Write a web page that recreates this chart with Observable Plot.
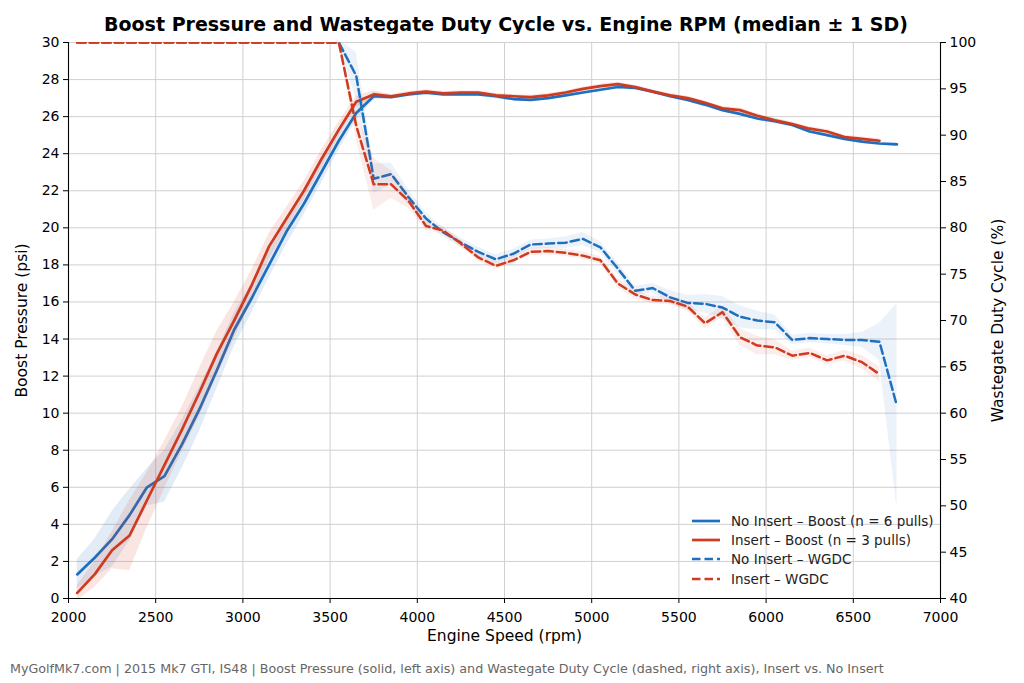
<!DOCTYPE html>
<html><head><meta charset="utf-8">
<script src="https://cdn.jsdelivr.net/npm/d3@7"></script>
<script src="https://cdn.jsdelivr.net/npm/@observablehq/plot@0.6"></script>
<style>
body{margin:0;background:#fff;font-family:"DejaVu Sans",sans-serif;}
#wrap{position:relative;width:1024px;height:683px;overflow:hidden;background:#fff;}
#title{position:absolute;top:13px;left:0;width:1012px;text-align:center;font-weight:bold;font-size:19px;line-height:23px;color:#000;white-space:nowrap;}
#chart{position:absolute;top:34px;left:0;}
#caption{position:absolute;left:10px;top:661px;font-size:12.7px;line-height:15px;color:#666;white-space:nowrap;}
#legend{position:absolute;left:691px;top:511px;font-size:13.5px;color:#222;}
#legend .row{display:flex;align-items:center;height:19.4px;white-space:nowrap;}
#legend svg{margin-right:10px;}
</style></head>
<body>
<div id="wrap">
  <div id="title">Boost Pressure and Wastegate Duty Cycle vs. Engine RPM (median ± 1 SD)</div>
  <div id="chart"></div>
  <div id="legend"></div>
  <div id="caption">MyGolfMk7.com | 2015 Mk7 GTI, IS48 | Boost Pressure (solid, left axis) and Wastegate Duty Cycle (dashed, right axis), Insert vs. No Insert</div>
</div>
<script>
// ---- data ----
const rpm = [2050,2150,2250,2350,2450,2550,2650,2750,2850,2950,3050,3150,3250,3350,3450,3550,3650,3750,3850,3950,4050,4150,4250,4350,4450,4550,4650,4750,4850,4950,5050,5150,5250,5350,5450,5550,5650,5750,5850,5950,6050,6150,6250,6350,6450,6550,6650,6750];

const boostNoInsert = [1.3,2.2,3.2,4.5,6.0,6.6,8.3,10.2,12.3,14.5,16.2,18.0,19.8,21.3,23.0,24.7,26.2,27.1,27.05,27.2,27.3,27.2,27.2,27.2,27.1,26.95,26.9,27.0,27.15,27.3,27.45,27.6,27.55,27.35,27.1,26.9,26.65,26.35,26.15,25.9,25.75,25.55,25.2,25.0,24.8,24.65,24.55,24.5];
const boostNoInsertSd = [0.8,1.0,1.5,1.4,1.0,1.4,1.3,1.2,1.0,0.9,0.8,0.7,0.7,0.6,0.6,0.5,0.4,0.2,0.1,0.1,0.1,0.1,0.1,0.1,0.15,0.1,0.1,0.1,0.1,0.1,0.1,0.1,0.1,0.1,0.1,0.1,0.15,0.1,0.1,0.1,0.15,0.1,0.1,0.1,0.1,0.1,0.1,0.1];
const boostInsert = [0.3,1.3,2.6,3.4,5.3,7.2,9.1,11.1,13.2,15.0,16.9,19.0,20.5,22.0,23.7,25.3,26.8,27.2,27.1,27.25,27.35,27.25,27.3,27.3,27.15,27.1,27.05,27.15,27.3,27.5,27.65,27.75,27.6,27.35,27.15,27.0,26.75,26.45,26.35,26.05,25.8,25.6,25.35,25.2,24.9,24.8,24.7];
const boostInsertSd = [0.4,0.7,1.0,1.9,1.5,1.3,1.2,1.3,1.2,1.0,0.8,0.7,0.6,0.5,0.5,0.4,0.3,0.2,0.1,0.1,0.1,0.1,0.1,0.1,0.1,0.1,0.1,0.1,0.1,0.1,0.1,0.1,0.1,0.1,0.1,0.1,0.1,0.1,0.1,0.1,0.1,0.1,0.1,0.1,0.1,0.1,0.1];

const wgdcNoInsert = [100,100,100,100,100,100,100,100,100,100,100,100,100,100,100,100,96.4,85.3,85.8,83.3,81.0,79.5,78.4,77.4,76.6,77.2,78.2,78.3,78.4,78.8,77.9,75.6,73.2,73.5,72.5,71.9,71.8,71.4,70.4,70.0,69.8,67.9,68.1,68.0,67.9,67.9,67.7,60.8];
const wgdcNoInsertSd = [0,0,0,0,0,0,0,0,0,0,0,0,0,0,0,0.3,2.5,1.6,1.2,0.8,0.6,0.5,0.5,0.5,0.5,0.5,0.5,0.5,0.6,0.7,0.6,0.6,0.5,0.5,0.7,0.8,1.0,1.2,1.2,1.0,0.8,0.5,0.5,0.5,0.6,0.8,2.0,11.0];
const wgdcInsert = [100,100,100,100,100,100,100,100,100,100,100,100,100,100,100,100,91.0,84.7,84.7,82.9,80.2,79.7,78.3,76.8,75.9,76.5,77.4,77.5,77.3,77.0,76.5,74.0,72.8,72.2,72.1,71.5,69.7,70.9,68.2,67.3,67.1,66.2,66.5,65.7,66.2,65.5,64.2];
const wgdcInsertSd = [0,0,0,0,0,0,0,0,0,0,0,0,0,0,0,0.2,1.5,2.8,1.5,0.8,0.5,0.4,0.4,0.4,0.4,0.4,0.4,0.4,0.4,0.4,0.4,0.5,0.5,0.4,0.4,0.5,0.6,0.6,0.9,1.0,0.8,0.5,0.5,0.5,0.6,0.7,0.8];

const xTicks = [2000,2500,3000,3500,4000,4500,5000,5500,6000,6500,7000];
const boostTicks = [0,2,4,6,8,10,12,14,16,18,20,22,24,26,28,30];
const wgdcTicks = [40,45,50,55,60,65,70,75,80,85,90,95,100];

const seriesNames = ["No Insert", "Insert"];
const seriesColors = ["#1f6fbf", "#d03a1f"];
const legendLabels = ["No Insert – Boost (n = 6 pulls)", "Insert – Boost (n = 3 pulls)", "No Insert – WGDC", "Insert – WGDC"];

// ---- build ----
const toL = w => (w - 40) / 2;       // WGDC % -> left (psi) scale
const fromL = v => v * 2 + 40;
const DASH = "8.5,4";

const seriesData = [
  {name: seriesNames[0], color: seriesColors[0], boost: boostNoInsert, bsd: boostNoInsertSd, wgdc: wgdcNoInsert, wsd: wgdcNoInsertSd},
  {name: seriesNames[1], color: seriesColors[1], boost: boostInsert, bsd: boostInsertSd, wgdc: wgdcInsert, wsd: wgdcInsertSd}
].map(s => ({...s, rows: s.boost.map((v, i) => ({rpm: rpm[i], boost: v, bsd: s.bsd[i], wgdc: s.wgdc[i], wsd: s.wsd[i]}))}));

const grid = {stroke: "#d0d0d0", strokeOpacity: 1, strokeWidth: 1};
const marks = [
  Plot.gridX(xTicks, grid),
  Plot.gridY(boostTicks, grid)
];
for (const s of seriesData) {
  marks.push(Plot.areaY(s.rows, {x: "rpm", y1: d => d.boost - d.bsd, y2: d => d.boost + d.bsd, fill: s.color, fillOpacity: 0.13, clip: true}));
  marks.push(Plot.lineY(s.rows, {x: "rpm", y: "boost", stroke: s.color, strokeWidth: 2.7, clip: true}));
}
for (const s of seriesData) {
  marks.push(Plot.areaY(s.rows, {x: "rpm", y1: d => toL(d.wgdc - d.wsd), y2: d => toL(d.wgdc + d.wsd), fill: s.color, fillOpacity: 0.09, clip: true}));
  marks.push(Plot.lineY(s.rows, {x: "rpm", y: d => toL(d.wgdc), stroke: s.color, strokeWidth: 2.5, strokeDasharray: DASH, clip: true}));
}
marks.push(
  Plot.ruleX([2000, 7000], {stroke: "#000", strokeWidth: 1.1}),
  Plot.ruleY([0], {stroke: "#000", strokeWidth: 1.1}),
  Plot.axisX(xTicks, {tickSize: 5, tickPadding: 9, fontSize: 14, label: null, tickFormat: d => String(d)}),
  Plot.axisY(boostTicks, {anchor: "left", tickSize: 5, tickPadding: 4, fontSize: 14, label: null}),
  Plot.axisY(wgdcTicks.map(toL), {anchor: "right", tickSize: 5, tickPadding: 4, fontSize: 14, label: null, tickFormat: v => String(Math.round(fromL(v)))}),
  Plot.text(["Boost Pressure (psi)"], {frameAnchor: "left", dx: -46, rotate: -90, textAnchor: "middle", fontSize: 15.5, fill: "#000"}),
  Plot.text(["Wastegate Duty Cycle (%)"], {frameAnchor: "right", dx: 58, rotate: -90, textAnchor: "middle", fontSize: 15.5, fill: "#000"}),
  Plot.text(["Engine Speed (rpm)"], {frameAnchor: "bottom", dy: 42, fontSize: 15.5, fill: "#000"})
);

const chart = Plot.plot({
  width: 1024, height: 614,
  marginLeft: 68, marginRight: 84, marginTop: 8, marginBottom: 50,
  x: {domain: [2000, 7000]},
  y: {domain: [0, 30]},
  style: {fontFamily: "DejaVu Sans, sans-serif", color: "#000", background: "#fff", overflow: "visible"},
  marks
});
document.getElementById("chart").appendChild(chart);

// legend
const lg = document.getElementById("legend");
legendLabels.forEach((lab, i) => {
  const color = seriesColors[i % 2];
  const dashed = i >= 2;
  const row = document.createElement("div");
  row.className = "row";
  row.innerHTML = `<svg width="30" height="8"><line x1="1" x2="29" y1="4" y2="4" stroke="${color}" stroke-width="${dashed ? 2.5 : 2.7}" ${dashed ? `stroke-dasharray="${DASH}"` : ""}/></svg><span>${lab}</span>`;
  lg.appendChild(row);
});
</script>
</body></html>
